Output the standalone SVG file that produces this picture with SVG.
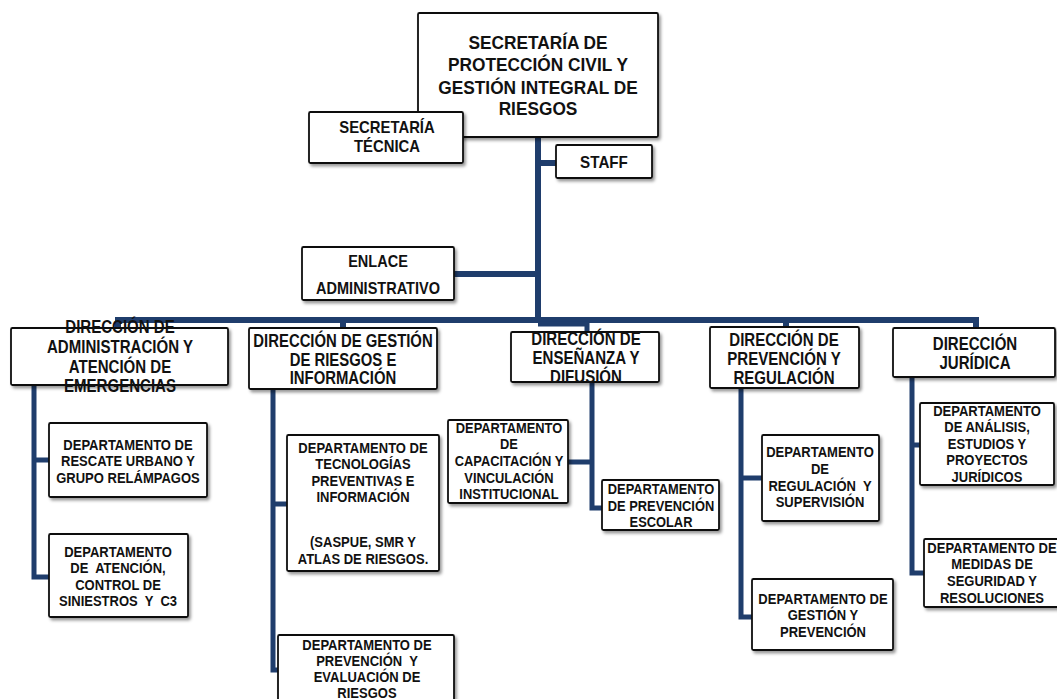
<svg xmlns="http://www.w3.org/2000/svg" width="1057" height="699" viewBox="0 0 1057 699">
<defs>
<filter id="sh" x="-10%" y="-10%" width="130%" height="140%">
<feDropShadow dx="2" dy="2.5" stdDeviation="1.6" flood-color="#000" flood-opacity="0.4"/>
</filter>
<style>
.box{fill:#fff;stroke:#111;stroke-width:1.8;filter:url(#sh)}
text{font-family:"Liberation Sans",Arial,sans-serif;font-weight:bold;fill:#111;text-anchor:middle;white-space:pre}
.t{font-size:19px}
.s{font-size:16.5px}
.d{font-size:17.5px}
.p{font-size:15.5px}
.ln{fill:none;stroke:#1f3d6c;stroke-width:6;stroke-linejoin:miter}
.lc{fill:none;stroke:#1f3d6c;stroke-width:5}
</style>
</defs>
<rect width="1057" height="699" fill="#fff"/>

<g id="connectors">
<path class="ln" d="M538 137 V323"/>
<path class="ln" d="M538 163 H556"/>
<path class="ln" d="M454 274 H538"/>
<path class="ln" d="M118 330 V320 H976 V330"/>
<path class="ln" d="M343 320 V330"/>
<path class="ln" d="M786 320 V329"/>
<path class="lc" d="M538 324 H587 V334"/>
<path class="lc" d="M34 385 V577 H50 M34 460 H50"/>
<path class="lc" d="M273 389 V670 H279 M273 504 H288"/>
<path class="lc" d="M592 382 V508 H603 M568 462 H592"/>
<path class="lc" d="M741 388 V617 H753 M741 478 H763"/>
<path class="lc" d="M912 377 V573 H925 M912 445 H921"/>
</g>

<g id="secretaria">
<rect class="box" x="418" y="13" width="240" height="124" rx="1.5"/>
<text class="t" transform="translate(538 0) scale(0.91 1)"><tspan x="0" y="49">SECRETARÍA DE</tspan><tspan x="0" y="71.5">PROTECCIÓN CIVIL Y</tspan><tspan x="0" y="94">GESTIÓN INTEGRAL DE</tspan><tspan x="0" y="115">RIESGOS</tspan></text>
</g>

<g id="secretaria-tecnica">
<rect class="box" x="309" y="112" width="154" height="51" rx="1.5"/>
<text class="s" transform="translate(387 0) scale(0.9 1)"><tspan x="0" y="133">SECRETARÍA</tspan><tspan x="0" y="152">TÉCNICA</tspan></text>
</g>

<g id="staff">
<rect class="box" x="556" y="145" width="96" height="33" rx="1.5"/>
<text class="s" transform="translate(604 0) scale(0.92 1)"><tspan x="0" y="168">STAFF</tspan></text>
</g>

<g id="enlace">
<rect class="box" x="302" y="247" width="152" height="53" rx="1.5"/>
<text class="s" transform="translate(378 0) scale(0.88 1)"><tspan x="0" y="267">ENLACE</tspan><tspan x="0" y="294">ADMINISTRATIVO</tspan></text>
</g>

<g id="dir-administracion">
<rect class="box" x="11" y="328" width="217" height="57" rx="1.5"/>
<text class="d" transform="translate(120 0) scale(0.86 1)"><tspan x="0" y="333">DIRECCIÓN DE</tspan><tspan x="0" y="353">ADMINISTRACIÓN Y</tspan><tspan x="0" y="373">ATENCIÓN DE</tspan><tspan x="0" y="392">EMERGENCIAS</tspan></text>
</g>

<g id="dir-gestion">
<rect class="box" x="249" y="328" width="188" height="61" rx="1.5"/>
<text class="d" transform="translate(343 0) scale(0.85 1)"><tspan x="0" y="347">DIRECCIÓN DE GESTIÓN</tspan><tspan x="0" y="366">DE RIESGOS E</tspan><tspan x="0" y="384.5">INFORMACIÓN</tspan></text>
</g>

<g id="dir-ensenanza">
<rect class="box" x="511" y="332" width="148" height="50" rx="1.5"/>
<text class="d" transform="translate(586 0) scale(0.86 1)"><tspan x="0" y="345">DIRECCIÓN DE</tspan><tspan x="0" y="364.5">ENSEÑANZA Y</tspan><tspan x="0" y="383.5">DIFUSIÓN</tspan></text>
</g>

<g id="dir-prevencion">
<rect class="box" x="710" y="327" width="149" height="61" rx="1.5"/>
<text class="d" transform="translate(784 0) scale(0.86 1)"><tspan x="0" y="346">DIRECCIÓN DE</tspan><tspan x="0" y="365">PREVENCIÓN Y</tspan><tspan x="0" y="384">REGULACIÓN</tspan></text>
</g>

<g id="dir-juridica">
<rect class="box" x="893" y="328" width="162" height="49" rx="1.5"/>
<text class="d" transform="translate(975 0) scale(0.86 1)"><tspan x="0" y="350">DIRECCIÓN</tspan><tspan x="0" y="369">JURÍDICA</tspan></text>
</g>

<g id="dep-rescate">
<rect class="box" x="49" y="423" width="158" height="74" rx="1.5"/>
<text class="p" transform="translate(128 0) scale(0.84 1)"><tspan x="0" y="450">DEPARTAMENTO DE</tspan><tspan x="0" y="466.5">RESCATE URBANO Y</tspan><tspan x="0" y="483">GRUPO RELÁMPAGOS</tspan></text>
</g>

<g id="dep-atencion">
<rect class="box" x="49" y="534" width="139" height="83" rx="1.5"/>
<text class="p" transform="translate(118 0) scale(0.84 1)"><tspan x="0" y="557">DEPARTAMENTO</tspan><tspan x="0" y="573.5">DE  ATENCIÓN,</tspan><tspan x="0" y="590">CONTROL DE</tspan><tspan x="0" y="606.5">SINIESTROS  Y  C3</tspan></text>
</g>

<g id="dep-tecnologias">
<rect class="box" x="287" y="435" width="152" height="136" rx="1.5"/>
<text class="p" transform="translate(363 0) scale(0.84 1)"><tspan x="0" y="453">DEPARTAMENTO DE</tspan><tspan x="0" y="469.5">TECNOLOGÍAS</tspan><tspan x="0" y="486">PREVENTIVAS E</tspan><tspan x="0" y="502.5">INFORMACIÓN</tspan><tspan x="0" y="547.5">(SASPUE, SMR Y</tspan><tspan x="0" y="564">ATLAS DE RIESGOS.</tspan></text>
</g>

<g id="dep-evaluacion">
<rect class="box" x="278" y="635" width="176" height="70" rx="1.5"/>
<text class="p" transform="translate(367 0) scale(0.84 1)"><tspan x="0" y="650">DEPARTAMENTO DE</tspan><tspan x="0" y="666">PREVENCIÓN  Y</tspan><tspan x="0" y="682">EVALUACIÓN DE</tspan><tspan x="0" y="698">RIESGOS</tspan></text>
</g>

<g id="dep-capacitacion">
<rect class="box" x="448" y="420" width="120" height="83" rx="1.5"/>
<text class="p" transform="translate(509 0) scale(0.83 1)"><tspan x="0" y="433">DEPARTAMENTO</tspan><tspan x="0" y="449">DE</tspan><tspan x="0" y="466">CAPACITACIÓN Y</tspan><tspan x="0" y="483">VINCULACIÓN</tspan><tspan x="0" y="499.5">INSTITUCIONAL</tspan></text>
</g>

<g id="dep-escolar">
<rect class="box" x="602" y="480" width="117" height="50" rx="1.5"/>
<text class="p" transform="translate(661 0) scale(0.83 1)"><tspan x="0" y="494">DEPARTAMENTO</tspan><tspan x="0" y="511">DE PREVENCIÓN</tspan><tspan x="0" y="527.5">ESCOLAR</tspan></text>
</g>

<g id="dep-regulacion">
<rect class="box" x="762" y="435" width="117" height="86" rx="1.5"/>
<text class="p" transform="translate(820 0) scale(0.84 1)"><tspan x="0" y="457">DEPARTAMENTO</tspan><tspan x="0" y="474">DE</tspan><tspan x="0" y="491">REGULACIÓN  Y</tspan><tspan x="0" y="507.5">SUPERVISIÓN</tspan></text>
</g>

<g id="dep-gestion-prevencion">
<rect class="box" x="752" y="579" width="141" height="71" rx="1.5"/>
<text class="p" transform="translate(823 0) scale(0.84 1)"><tspan x="0" y="604">DEPARTAMENTO DE</tspan><tspan x="0" y="620.5">GESTIÓN Y</tspan><tspan x="0" y="637">PREVENCIÓN</tspan></text>
</g>

<g id="dep-analisis">
<rect class="box" x="920" y="403" width="134" height="82" rx="1.5"/>
<text class="p" transform="translate(987 0) scale(0.84 1)"><tspan x="0" y="416">DEPARTAMENTO</tspan><tspan x="0" y="432.5">DE ANÁLISIS,</tspan><tspan x="0" y="449">ESTUDIOS Y</tspan><tspan x="0" y="465.5">PROYECTOS</tspan><tspan x="0" y="482">JURÍDICOS</tspan></text>
</g>

<g id="dep-medidas">
<rect class="box" x="924" y="539" width="138" height="68" rx="1.5"/>
<text class="p" transform="translate(992 0) scale(0.84 1)"><tspan x="0" y="553">DEPARTAMENTO DE</tspan><tspan x="0" y="569.5">MEDIDAS DE</tspan><tspan x="0" y="586.5">SEGURIDAD Y</tspan><tspan x="0" y="603">RESOLUCIONES</tspan></text>
</g>
</svg>
